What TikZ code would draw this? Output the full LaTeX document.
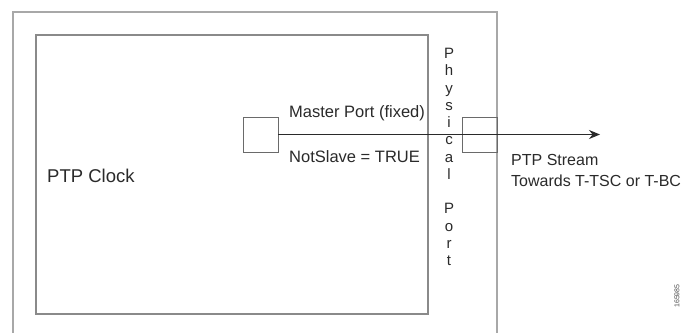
\documentclass[tikz,border=0pt]{standalone}
\usepackage{fontspec}
\setmainfont{Liberation Sans}
\usetikzlibrary{arrows.meta}
\definecolor{txt}{HTML}{2A2A2A}
\definecolor{boxgray}{HTML}{8A8A8A}
\definecolor{outgray}{HTML}{A8A8A8}
\definecolor{portgray}{HTML}{6A6A6A}
\tikzset{
  lbl/.style={inner sep=0pt, text=txt, font=\fontsize{16.5}{18}\selectfont},
  portbox/.style={draw=portgray, line width=0.9pt, minimum width=35pt, minimum height=35pt, inner sep=0pt},
  stream/.style={draw=txt, line width=1.2pt, -{Stealth[length=11pt,width=9pt]}}
}
\begin{document}
\begin{tikzpicture}[x=1pt,y=-1pt]
\useasboundingbox (0,0) rectangle (684,332);
\clip (0,0) rectangle (684,332);
\fill[white] (0,0) rectangle (684,332);
% outer box (open at bottom, runs past the edge)
\draw[outgray, line width=1.8pt] (13,345) -- (13,12) -- (497,12) -- (497,345);
% inner clock box
\node[draw=boxgray, line width=1.5pt, minimum width=392pt, minimum height=279pt, inner sep=0pt] (clock) at (232,174.5) {};
\node[lbl, anchor=west, font=\fontsize{18.5}{20}\selectfont] (clk) at (47,176) {PTP Clock};
% ports
\node[portbox] (mport) at (260.5,134.5) {};
\node[portbox] (pport) at (479.5,134.5) {};
\coordinate (tip) at (600,134.5);
\draw[stream] (mport.east) -- (tip);
% labels
\node[lbl, anchor=west] (mlab) at (289,113) {Master Port (fixed)};
\node[lbl, anchor=west] (nslab) at (289,157) {NotSlave = TRUE};
\node[lbl, anchor=north west, align=left, font=\fontsize{16}{21}\selectfont] (slab) at (511,154) {PTP Stream\\Towards T-TSC or T-BC};
% vertical physical port label
\node[lbl, anchor=north, align=center, font=\fontsize{15}{17.25}\selectfont] (phys) at (449,48)
  {P\\h\\y\\s\\i\\c\\a\\l\\\mbox{}\\P\\o\\r\\t};
% figure id
\node[inner sep=0pt, text=black!70, rotate=90, font=\fontsize{7}{8}\selectfont] (fid) at (677,296) {165985};
\end{tikzpicture}
\end{document}
